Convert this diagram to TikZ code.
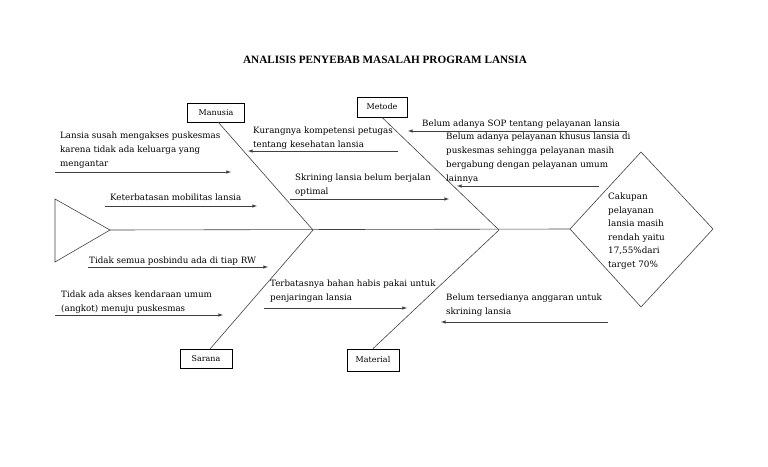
\documentclass[tikz,border=0pt]{standalone}
\usepackage{fontspec}
\setmainfont{DejaVu Serif}
\newfontfamily\titlefont{Liberation Serif}
\usetikzlibrary{positioning}

\tikzset{
  bone/.style={draw=black!75, line width=0.6pt},
  cause/.style={->, draw=black!75, line width=0.6pt},
  causetext/.style={align=left, inner sep=0pt, anchor=north west,
    font=\fontsize{8.7}{13.8}\selectfont},
  category/.style={draw, line width=0.8pt, inner sep=0pt,
    font=\fontsize{8}{9}\selectfont},
}

\begin{document}
\begin{tikzpicture}[>=latex, x=1pt, y=-1pt]
        \useasboundingbox (0, 0) rectangle (768, 466);

        \node[font=\titlefont\bfseries\fontsize{11.2}{12}\selectfont] (title) at (385, 60) {ANALISIS PENYEBAB MASALAH PROGRAM LANSIA};

        % kepala dan ekor
        \coordinate (tailtop) at (55, 199);
        \coordinate (tail) at (110, 230);
        \coordinate (tailbot) at (55, 262);
        \coordinate (headw) at (570, 229);
        \coordinate (headn) at (641, 152);
        \coordinate (heade) at (713, 229);
        \coordinate (heads) at (641, 307);
        \draw[bone] (tailtop) -- (tail) -- (tailbot) -- cycle;
        \draw[bone] (headw) -- (headn) -- (heade) -- (heads) -- cycle;
        \draw[bone] (tail) -- (headw);
        \node[causetext, font=\fontsize{8.8}{13.5}\selectfont] (problem) at (608, 193) {Cakupan\\pelayanan\\lansia masih\\rendah yaitu\\17,55\%dari\\target 70\%};

        % tulang
        \node[category, minimum width=57pt, minimum height=19pt] (manusia) at (216, 113) {Manusia};
        \node[category, minimum width=50pt, minimum height=20pt] (metode) at (382, 107) {Metode};
        \node[category, minimum width=52pt, minimum height=19pt] (sarana) at (206, 359) {Sarana};
        \node[category, minimum width=52pt, minimum height=22pt] (material) at (373, 360) {Material};
        \coordinate (j1) at (313, 230);
        \coordinate (j2) at (499, 230);
        \draw[bone] (218, 122) -- (j1);
        \draw[bone] (metode.south) -- (j2);
        \draw[bone] (210, 349) -- (j1);
        \draw[bone] (material.north) -- (j2);

        % manusia
        \node[causetext] (m1) at (60, 132) {Lansia susah mengakses puskesmas\\karena tidak ada keluarga yang\\mengantar};
        \coordinate (m1a) at (55, 172);
        \coordinate (m1b) at (231, 172);
        \draw[cause] (m1a) -- (m1b);
        \node[causetext] (m2) at (253, 127) {Kurangnya kompetensi petugas\\tentang kesehatan lansia};
        \coordinate (m2a) at (398, 151);
        \coordinate (m2b) at (248, 151);
        \draw[cause] (m2a) -- (m2b);
        \node[causetext] (m3) at (110, 194) {Keterbatasan mobilitas lansia};
        \coordinate (m3a) at (105, 206);
        \coordinate (m3b) at (257, 206);
        \draw[cause] (m3a) -- (m3b);

        % metode
        \node[causetext] (t1) at (295, 174) {Skrining lansia belum berjalan\\optimal};
        \coordinate (t1a) at (290, 199);
        \coordinate (t1b) at (449, 199);
        \draw[cause] (t1a) -- (t1b);
        \node[causetext] (t2) at (422, 120) {Belum adanya SOP tentang pelayanan lansia};
        \coordinate (t2a) at (627, 131);
        \coordinate (t2b) at (408, 131);
        \draw[cause] (t2a) -- (t2b);
        \node[causetext] (t3) at (446, 133) {Belum adanya pelayanan khusus lansia di\\puskesmas sehingga pelayanan masih\\bergabung dengan pelayanan umum\\lainnya};
        \coordinate (t3a) at (599, 186);
        \coordinate (t3b) at (457, 186);
        \draw[cause] (t3a) -- (t3b);

        % sarana
        \node[causetext] (s1) at (89, 257) {Tidak semua posbindu ada di tiap RW};
        \coordinate (s1a) at (88, 267);
        \coordinate (s1b) at (268, 267);
        \draw[cause] (s1a) -- (s1b);
        \node[causetext] (s2) at (61, 291) {Tidak ada akses kendaraan umum\\(angkot) menuju puskesmas};
        \coordinate (s2a) at (55, 315);
        \coordinate (s2b) at (223, 315);
        \draw[cause] (s2a) -- (s2b);

        % material
        \node[causetext] (r1) at (270, 280) {Terbatasnya bahan habis pakai untuk\\penjaringan lansia};
        \coordinate (r1a) at (264, 308);
        \coordinate (r1b) at (407, 308);
        \draw[cause] (r1a) -- (r1b);
        \node[causetext] (r2) at (446, 294) {Belum tersedianya anggaran untuk\\skrining lansia};
        \coordinate (r2a) at (608, 322);
        \coordinate (r2b) at (441, 322);
        \draw[cause] (r2a) -- (r2b);
    \end{tikzpicture}
\end{document}
